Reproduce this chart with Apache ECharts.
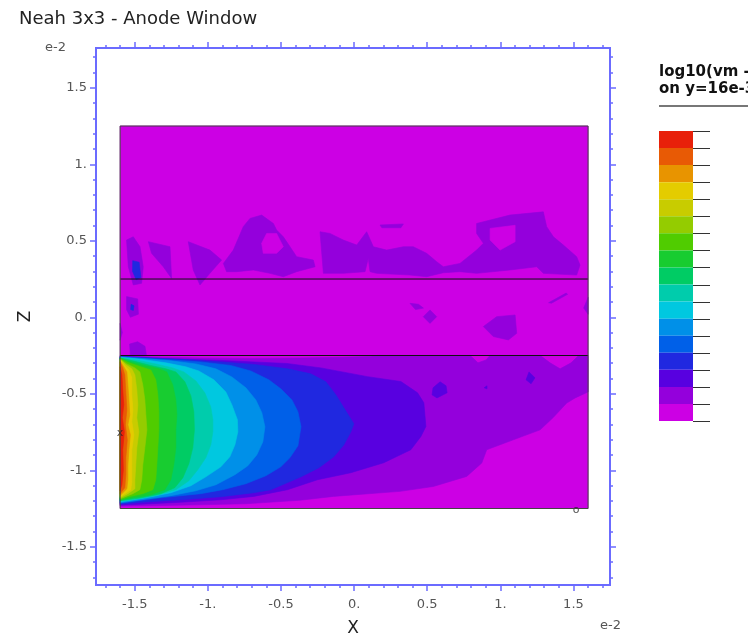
<!DOCTYPE html>
<html>
<head>
<meta charset="utf-8">
<script src="https://cdn.jsdelivr.net/npm/echarts@6/dist/echarts.min.js"></script>
<style>
  html, body { margin: 0; padding: 0; background: #ffffff; }
  #chart { width: 748px; height: 640px; }
</style>
</head>
<body>
<div id="chart"></div>
<script>
// Contour level colours, highest level (index 0) down to lowest (index 16)
const levelColors = [
  '#e8200a', '#e85a05', '#e89400', '#e4cc00', '#c8cc00', '#94cc00',
  '#50cc00', '#18cc30', '#00cc64', '#00ccac', '#00c8e0', '#0090e8',
  '#0060e8', '#2028e0', '#5800e0', '#9400dc', '#cc00e4'
];

// Axis ticks, in units of 1e-2
const majorTicks = [-1.5, -1, -0.5, 0, 0.5, 1, 1.5];
const tickLabels = ['-1.5', '-1.', '-0.5', '0.', '0.5', '1.', '1.5'];
const minorTicks = [
  -1.7, -1.6, -1.5, -1.4, -1.3, -1.2, -1.1, -1.0, -0.9, -0.8, -0.7, -0.6,
  -0.5, -0.4, -0.3, -0.2, -0.1, 0, 0.1, 0.2, 0.3, 0.4, 0.5, 0.6, 0.7, 0.8,
  0.9, 1.0, 1.1, 1.2, 1.3, 1.4, 1.5, 1.6, 1.7
];

// Model domain and layer interfaces (x, z)
const domainX = [-1.6, 1.6];
const domainZ = [-1.25, 1.25];
const layerZ = [0.25, -0.25];

// Probe markers
const probeX = [-1.6, -0.757];
const probeO = [1.518, -1.262];

// Filled contour outlines [x, z] per level
const plume15 = [[-1.6,-0.249],[-1.396,-0.259],[-1.054,-0.266],[-0.712,-0.269],[-0.370,-0.266],[-0.096,-0.262],[0.109,-0.256],[0.157,-0.249],[0.793,-0.249],[0.847,-0.298],[0.902,-0.279],[0.930,-0.249],[1.272,-0.249],[1.340,-0.298],[1.409,-0.337],[1.484,-0.298],[1.532,-0.253],[1.6,-0.249],[1.6,-0.488],[1.512,-0.527],[1.454,-0.561],[1.360,-0.657],[1.272,-0.736],[1.089,-0.801],[0.907,-0.866],[0.873,-0.953],[0.770,-1.040],[0.542,-1.106],[0.314,-1.138],[-0.142,-1.171],[-0.370,-1.196],[-0.739,-1.219],[-1.054,-1.226],[-1.396,-1.232],[-1.6,-1.235]];
const plume14 = [[-1.6,-0.254],[-1.322,-0.269],[-0.911,-0.282],[-0.460,-0.302],[-0.227,-0.331],[0.092,-0.388],[0.320,-0.420],[0.434,-0.494],[0.477,-0.559],[0.491,-0.714],[0.457,-0.779],[0.388,-0.866],[0.203,-0.951],[-0.022,-1.016],[-0.250,-1.062],[-0.455,-1.127],[-0.686,-1.171],[-0.911,-1.193],[-1.185,-1.209],[-1.458,-1.222],[-1.6,-1.228]];
const plume13 = [[-1.6,-0.257],[-1.185,-0.275],[-0.911,-0.292],[-0.686,-0.308],[-0.455,-0.337],[-0.296,-0.370],[-0.193,-0.422],[-0.125,-0.507],[-0.070,-0.592],[-0.002,-0.696],[-0.022,-0.749],[-0.070,-0.834],[-0.139,-0.912],[-0.241,-0.984],[-0.363,-1.043],[-0.569,-1.127],[-0.686,-1.147],[-0.911,-1.173],[-1.185,-1.193],[-1.458,-1.209],[-1.6,-1.222]];
const plume12 = [[-1.6,-0.259],[-1.322,-0.275],[-1.048,-0.292],[-0.843,-0.315],[-0.706,-0.351],[-0.583,-0.409],[-0.501,-0.468],[-0.425,-0.540],[-0.384,-0.618],[-0.363,-0.716],[-0.384,-0.840],[-0.439,-0.918],[-0.501,-0.977],[-0.603,-1.036],[-0.740,-1.088],[-0.898,-1.127],[-1.048,-1.153],[-1.322,-1.180],[-1.6,-1.215]];
const plume11 = [[-1.6,-0.260],[-1.458,-0.269],[-1.253,-0.285],[-1.082,-0.305],[-0.945,-0.337],[-0.836,-0.390],[-0.740,-0.461],[-0.672,-0.540],[-0.631,-0.624],[-0.610,-0.716],[-0.624,-0.814],[-0.665,-0.899],[-0.727,-0.971],[-0.815,-1.029],[-0.945,-1.095],[-1.082,-1.134],[-1.253,-1.166],[-1.458,-1.193],[-1.6,-1.212]];
const plume10 = [[-1.6,-0.262],[-1.458,-0.275],[-1.287,-0.298],[-1.151,-0.324],[-1.062,-0.351],[-0.959,-0.409],[-0.877,-0.488],[-0.836,-0.572],[-0.798,-0.670],[-0.795,-0.749],[-0.815,-0.834],[-0.850,-0.912],[-0.911,-0.977],[-1.014,-1.043],[-1.116,-1.101],[-1.253,-1.147],[-1.424,-1.180],[-1.6,-1.206]];
const plume9 = [[-1.6,-0.264],[-1.493,-0.279],[-1.356,-0.305],[-1.240,-0.331],[-1.164,-0.357],[-1.082,-0.416],[-1.021,-0.494],[-0.980,-0.586],[-0.966,-0.670],[-0.966,-0.749],[-0.980,-0.834],[-1.014,-0.918],[-1.069,-0.997],[-1.130,-1.069],[-1.219,-1.127],[-1.356,-1.166],[-1.493,-1.189],[-1.6,-1.203]];
const plume8 = [[-1.6,-0.266],[-1.513,-0.285],[-1.390,-0.315],[-1.287,-0.337],[-1.219,-0.357],[-1.157,-0.422],[-1.116,-0.514],[-1.096,-0.618],[-1.092,-0.736],[-1.103,-0.853],[-1.130,-0.958],[-1.171,-1.049],[-1.226,-1.114],[-1.322,-1.153],[-1.458,-1.180],[-1.6,-1.199]];
const plume7 = [[-1.6,-0.268],[-1.527,-0.292],[-1.424,-0.318],[-1.335,-0.337],[-1.281,-0.357],[-1.240,-0.442],[-1.219,-0.540],[-1.212,-0.638],[-1.219,-0.736],[-1.219,-0.853],[-1.233,-0.964],[-1.253,-1.062],[-1.294,-1.127],[-1.390,-1.160],[-1.513,-1.180],[-1.6,-1.196]];
const plume6 = [[-1.6,-0.270],[-1.540,-0.298],[-1.458,-0.324],[-1.390,-0.344],[-1.356,-0.409],[-1.342,-0.507],[-1.335,-0.618],[-1.335,-0.736],[-1.342,-0.853],[-1.349,-0.964],[-1.356,-1.062],[-1.376,-1.127],[-1.445,-1.153],[-1.540,-1.173],[-1.6,-1.193]];
const plume5 = [[-1.6,-0.272],[-1.554,-0.305],[-1.499,-0.331],[-1.465,-0.357],[-1.445,-0.442],[-1.431,-0.540],[-1.424,-0.638],[-1.417,-0.736],[-1.431,-0.853],[-1.445,-0.964],[-1.452,-1.062],[-1.465,-1.127],[-1.513,-1.153],[-1.6,-1.186]];
const plume4 = [[-1.6,-0.275],[-1.561,-0.311],[-1.520,-0.337],[-1.499,-0.377],[-1.486,-0.475],[-1.479,-0.572],[-1.486,-0.657],[-1.472,-0.749],[-1.486,-0.853],[-1.493,-0.964],[-1.499,-1.062],[-1.499,-1.121],[-1.547,-1.153],[-1.6,-1.180]];
const plume3 = [[-1.6,-0.279],[-1.568,-0.318],[-1.540,-0.344],[-1.520,-0.396],[-1.520,-0.507],[-1.513,-0.605],[-1.520,-0.683],[-1.506,-0.768],[-1.520,-0.866],[-1.520,-0.971],[-1.520,-1.075],[-1.527,-1.127],[-1.568,-1.153],[-1.6,-1.173]];
const plume2 = [[-1.6,-0.285],[-1.575,-0.324],[-1.554,-0.357],[-1.547,-0.442],[-1.540,-0.540],[-1.534,-0.638],[-1.547,-0.703],[-1.530,-0.768],[-1.540,-0.866],[-1.547,-0.971],[-1.547,-1.062],[-1.554,-1.121],[-1.588,-1.153],[-1.6,-1.166]];
const plume1 = [[-1.6,-0.292],[-1.582,-0.331],[-1.568,-0.377],[-1.561,-0.488],[-1.554,-0.605],[-1.564,-0.703],[-1.551,-0.801],[-1.561,-0.918],[-1.561,-1.029],[-1.568,-1.114],[-1.595,-1.147],[-1.6,-1.153]];
const plume0 = [[-1.6,-0.324],[-1.588,-0.377],[-1.582,-0.475],[-1.575,-0.572],[-1.585,-0.657],[-1.571,-0.749],[-1.582,-0.866],[-1.578,-0.997],[-1.588,-1.095],[-1.6,-1.134]];

// Isolated patches in the upper and middle layers
const upperA = [[-1.556,0.505],[-1.510,0.526],[-1.464,0.461],[-1.442,0.330],[-1.453,0.222],[-1.510,0.211],[-1.544,0.330]];
const upperACore = [[-1.514,0.370],[-1.470,0.360],[-1.458,0.260],[-1.490,0.245],[-1.515,0.300]];
const upperB = [[-1.407,0.494],[-1.259,0.461],[-1.248,0.254],[-1.305,0.330],[-1.385,0.418]];
const upperC = [[-1.134,0.494],[-0.986,0.439],[-0.906,0.374],[-0.986,0.287],[-1.054,0.211],[-1.100,0.309]];
const upperD = [[-0.894,0.352],[-0.826,0.439],[-0.758,0.592],[-0.712,0.646],[-0.632,0.668],[-0.552,0.613],[-0.530,0.570],[-0.484,0.526],[-0.438,0.461],[-0.393,0.396],[-0.279,0.374],[-0.267,0.330],[-0.393,0.298],[-0.484,0.265],[-0.575,0.287],[-0.689,0.309],[-0.803,0.298],[-0.872,0.298]];
const upperDHole = [[-0.632,0.483],[-0.598,0.548],[-0.530,0.548],[-0.484,0.461],[-0.530,0.418],[-0.621,0.418]];
const upperE = [[-0.233,0.559],[-0.165,0.548],[-0.074,0.505],[0.018,0.472],[0.086,0.559],[0.132,0.461],[0.223,0.439],[0.337,0.461],[0.405,0.461],[0.496,0.418],[0.565,0.363],[0.610,0.330],[0.724,0.352],[0.838,0.439],[0.884,0.483],[0.838,0.548],[0.838,0.613],[1.066,0.668],[1.294,0.689],[1.317,0.592],[1.363,0.526],[1.431,0.472],[1.522,0.396],[1.545,0.341],[1.522,0.276],[1.294,0.287],[1.249,0.330],[1.066,0.309],[0.838,0.287],[0.724,0.298],[0.610,0.291],[0.496,0.265],[0.382,0.276],[0.154,0.287],[0.109,0.298],[0.097,0.385],[0.075,0.298],[-0.074,0.287],[-0.210,0.287]];
const upperEHole = [[0.930,0.581],[1.101,0.601],[1.101,0.494],[0.998,0.439],[0.930,0.505]];
const upperF = [[0.177,0.603],[0.337,0.610],[0.320,0.585],[0.190,0.585]];
const middleA = [[-1.556,0.135],[-1.480,0.120],[-1.475,0.020],[-1.530,0.000],[-1.556,0.050]];
const middleACore = [[-1.525,0.085],[-1.505,0.075],[-1.510,0.045],[-1.528,0.050]];
const middleB = [[0.382,0.091],[0.440,0.085],[0.474,0.060],[0.420,0.050]];
const middleC = [[0.519,0.048],[0.565,0.004],[0.519,-0.040],[0.473,0.004]];
const middleD = [[0.884,-0.061],[0.975,0.004],[1.101,0.015],[1.112,-0.105],[1.055,-0.148],[0.952,-0.126]];
const middleE = [[1.330,0.095],[1.450,0.158],[1.460,0.150],[1.350,0.092]];
const middleF = [[1.6,0.130],[1.6,0.020],[1.570,0.060]];
const middleG = [[-1.535,-0.175],[-1.480,-0.160],[-1.430,-0.190],[-1.420,-0.249],[-1.530,-0.249]];
const middleH = [[-1.6,-0.040],[-1.585,-0.100],[-1.6,-0.150]];
const lowerSpotA = [[0.540,-0.461],[0.588,-0.422],[0.629,-0.448],[0.636,-0.494],[0.567,-0.527],[0.533,-0.507]];
const lowerSpotB = [[1.176,-0.409],[1.196,-0.357],[1.237,-0.396],[1.210,-0.435]];
const lowerSpotC = [[0.889,-0.461],[0.909,-0.448],[0.909,-0.468]];

const domainRect = [[domainX[0], domainZ[0]], [domainX[1], domainZ[0]], [domainX[1], domainZ[1]], [domainX[0], domainZ[1]]];

// Painter's order: lowest level first, higher levels on top
const shapes = [
  { lv: 16, pts: domainRect },
  { lv: 15, pts: plume15 }, { lv: 15, pts: upperA }, { lv: 15, pts: upperB },
  { lv: 15, pts: upperC }, { lv: 15, pts: upperD }, { lv: 15, pts: upperE },
  { lv: 15, pts: upperF }, { lv: 15, pts: middleA }, { lv: 15, pts: middleB },
  { lv: 15, pts: middleC }, { lv: 15, pts: middleD }, { lv: 15, pts: middleE },
  { lv: 15, pts: middleF }, { lv: 15, pts: middleG }, { lv: 15, pts: middleH },
  { lv: 16, pts: upperDHole }, { lv: 16, pts: upperEHole },
  { lv: 14, pts: plume14 }, { lv: 14, pts: lowerSpotA }, { lv: 14, pts: lowerSpotB },
  { lv: 14, pts: lowerSpotC },
  { lv: 13, pts: plume13 }, { lv: 13, pts: upperACore }, { lv: 13, pts: middleACore },
  { lv: 12, pts: plume12 }, { lv: 11, pts: plume11 }, { lv: 10, pts: plume10 },
  { lv: 9, pts: plume9 }, { lv: 8, pts: plume8 }, { lv: 7, pts: plume7 },
  { lv: 6, pts: plume6 }, { lv: 5, pts: plume5 }, { lv: 4, pts: plume4 },
  { lv: 3, pts: plume3 }, { lv: 2, pts: plume2 }, { lv: 1, pts: plume1 },
  { lv: 0, pts: plume0 }
];

const FONT = '"DejaVu Sans", "Liberation Sans", Arial, sans-serif';
const AXIS_BLUE = '#6b6bff';
const X_RANGE = [-1.765, 1.75];
const Z_RANGE = [-1.75, 1.76];

function tickText(v) {
  const i = majorTicks.findIndex(t => Math.abs(t - v) < 1e-6);
  return i < 0 ? '' : tickLabels[i];
}

function frameAxis(kind, position, ticks, len, withLabels) {
  const range = kind === 'x' ? X_RANGE : Z_RANGE;
  return {
    type: 'value', gridIndex: 0, position: position,
    min: range[0], max: range[1],
    axisLine: { show: true, onZero: false, lineStyle: { color: AXIS_BLUE, width: 2 } },
    axisTick: { show: true, inside: false, length: len, customValues: ticks,
                lineStyle: { color: AXIS_BLUE, width: 1.5 } },
    axisLabel: { show: withLabels, customValues: majorTicks, formatter: tickText,
                 color: '#555', fontSize: 13, fontFamily: FONT,
                 margin: kind === 'x' ? 13 : 9 },
    splitLine: { show: false }
  };
}

const xAxes = [
  Object.assign(frameAxis('x', 'bottom', majorTicks, 6, true), {
    name: 'X', nameLocation: 'middle', nameGap: 35,
    nameTextStyle: { fontSize: 17, color: '#222', fontFamily: FONT }
  }),
  frameAxis('x', 'bottom', minorTicks, 3, false),
  frameAxis('x', 'top', majorTicks, 6, false),
  frameAxis('x', 'top', minorTicks, 3, false),
  { type: 'value', gridIndex: 1, min: 0, max: 1, show: false }
];
const yAxes = [
  Object.assign(frameAxis('y', 'left', majorTicks, 6, true), {
    name: 'Z', nameLocation: 'middle', nameGap: 62,
    nameTextStyle: { fontSize: 17, color: '#222', fontFamily: FONT }
  }),
  frameAxis('y', 'left', minorTicks, 3, false),
  frameAxis('y', 'right', majorTicks, 6, false),
  frameAxis('y', 'right', minorTicks, 3, false),
  { type: 'value', gridIndex: 1, min: 0, max: levelColors.length, show: false }
];

const chart = echarts.init(document.getElementById('chart'), null, { renderer: 'canvas' });

chart.setOption({
  animation: false,
  backgroundColor: '#ffffff',
  title: {
    text: 'Neah 3x3 - Anode Window', left: 14, top: 5,
    textStyle: { fontFamily: FONT, fontSize: 18, fontWeight: 'normal', color: '#222' }
  },
  grid: [
    { left: 96, top: 48, width: 514, height: 537, containLabel: false, outerBoundsMode: 'none' },
    { left: 659, top: 131, width: 34, height: 290, containLabel: false, outerBoundsMode: 'none' }
  ],
  xAxis: xAxes,
  yAxis: yAxes,
  graphic: [
    { type: 'text', left: 45, top: 41, style: { text: 'e-2', fontSize: 13, fontFamily: FONT, fill: '#555' } },
    { type: 'text', left: 600, top: 619, style: { text: 'e-2', fontSize: 13, fontFamily: FONT, fill: '#555' } },
    { type: 'text', left: 659, top: 65, style: { text: 'log10(vm - vm0)', fontSize: 15, fontWeight: 'bold', fontFamily: FONT, fill: '#111' } },
    { type: 'text', left: 659, top: 82, style: { text: 'on y=16e-3', fontSize: 15, fontWeight: 'bold', fontFamily: FONT, fill: '#111' } },
    { type: 'line', shape: { x1: 659, y1: 106, x2: 748, y2: 106 }, style: { stroke: '#777', lineWidth: 2 } }
  ],
  series: [
    {
      type: 'custom', name: 'contours', xAxisIndex: 0, yAxisIndex: 0, silent: true,
      data: shapes.map(s => s.pts[0]),
      renderItem: function (params, api) {
        const s = shapes[params.dataIndex];
        const c = levelColors[s.lv];
        return {
          type: 'polygon',
          shape: { points: s.pts.map(p => api.coord(p)) },
          style: { fill: c, stroke: c, lineWidth: 0.6 }
        };
      }
    },
    {
      type: 'line', xAxisIndex: 0, yAxisIndex: 0, silent: true, symbol: 'none',
      data: [[domainX[0], layerZ[0]], [domainX[1], layerZ[0]]],
      lineStyle: { color: '#111', width: 1 }
    },
    {
      type: 'line', xAxisIndex: 0, yAxisIndex: 0, silent: true, symbol: 'none',
      data: [[domainX[0], layerZ[1]], [domainX[1], layerZ[1]]],
      lineStyle: { color: '#111', width: 1 }
    },
    {
      type: 'line', xAxisIndex: 0, yAxisIndex: 0, silent: true, symbol: 'none',
      data: domainRect.concat([domainRect[0]]),
      lineStyle: { color: '#444', width: 1 }
    },
    {
      type: 'scatter', xAxisIndex: 0, yAxisIndex: 0, silent: true, symbolSize: 1,
      itemStyle: { color: 'rgba(0,0,0,0)' },
      label: { show: true, position: 'inside', color: '#222', fontFamily: FONT, fontSize: 11 },
      data: [
        { value: probeX, label: { formatter: 'x' } },
        { value: probeO, label: { formatter: 'o' } }
      ]
    },
    {
      // Colour scale: one box per level with a tick on its upper edge
      type: 'custom', name: 'colorbar', xAxisIndex: 4, yAxisIndex: 4, silent: true,
      data: levelColors.map((c, i) => [0, levelColors.length - 1 - i]),
      renderItem: function (params, api) {
        const lo = api.coord([0, api.value(1)]);
        const hi = api.coord([1, api.value(1) + 1]);
        const children = [
          { type: 'rect',
            shape: { x: lo[0], y: hi[1], width: hi[0] - lo[0], height: lo[1] - hi[1] },
            style: { fill: levelColors[params.dataIndex] } },
          { type: 'line',
            shape: { x1: hi[0], y1: Math.round(hi[1]) + 0.5, x2: hi[0] + 17, y2: Math.round(hi[1]) + 0.5 },
            style: { stroke: '#333', lineWidth: 1 } }
        ];
        if (api.value(1) === 0) {
          children.push({ type: 'line',
            shape: { x1: hi[0], y1: Math.round(lo[1]) + 0.5, x2: hi[0] + 17, y2: Math.round(lo[1]) + 0.5 },
            style: { stroke: '#333', lineWidth: 1 } });
        }
        return { type: 'group', children: children };
      }
    }
  ]
});
</script>
</body>
</html>
